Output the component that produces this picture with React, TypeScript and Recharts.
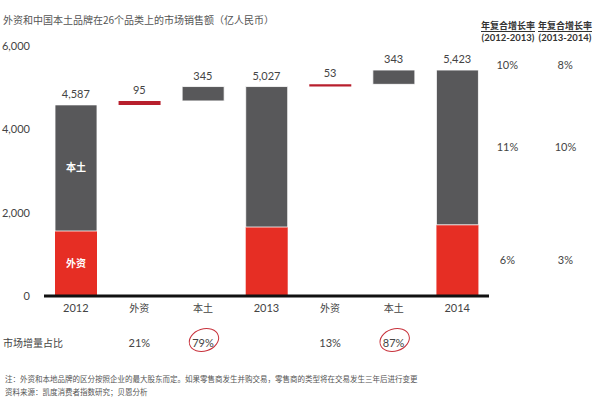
import React from 'react';
import { ComposedChart, Bar, Line, XAxis, YAxis, LabelList, Cell } from 'recharts';

const categories = ['2012', '外资', '本土', '2013', '外资', '本土', '2014'];
const offsetValues = [0, 4587, 4682, 0, 5027, 5080, 0];
const foreignValues = [1560, 95, 0, 1655, 53, 0, 1708];
const domesticValues = [3027, 0, 345, 3372, 0, 343, 3715];
const topValues = [4587, 4682, 5027, 5027, 5080, 5423, 5423];
const valueLabels = ['4,587', '95', '345', '5,027', '53', '343', '5,423'];
const shareLabels = ['', '21%', '79%', '', '13%', '87%', ''];
const circledShares = [false, false, true, false, false, true, false];
const yTicks = [0, 2000, 4000, 6000];
const cagrHeaders = [
  ['年复合增长率', '(2012-2013)'],
  ['年复合增长率', '(2013-2014)'],
];
const cagrTotal = ['10%', '8%'];
const cagrDomestic = ['11%', '10%'];
const cagrForeign = ['6%', '3%'];
const segmentLabels = { domestic: '本土', foreign: '外资' };
const floatingForeign = [false, true, false, false, true, false, false];

const title = '外资和中国本土品牌在26个品类上的市场销售额（亿人民币）';
const shareRowTitle = '市场增量占比';
const noteLines = [
  '注：外资和本地品牌的区分按照企业的最大股东而定。如果零售商发生并购交易，零售商的类型将在交易发生三年后进行变更',
  '资料来源：凯度消费者指数研究；贝恩分析',
];

const data = categories.map((name, i) => ({
  name,
  idx: i,
  offset: offsetValues[i],
  foreign: foreignValues[i],
  domestic: domesticValues[i],
  top: topValues[i],
  label: valueLabels[i],
}));

const NUM_FONT = "Lato, 'Noto Sans CJK SC', sans-serif";
const CJK_FONT = "'Noto Sans CJK SC', sans-serif";
const RED = '#e62e24';
const DARK_RED = '#b81f2d';
const GRAY = '#58585a';
const TEXT = '#444';

const CategoryTick = (props: any) => {
  const { x, y, payload } = props;
  const i = payload.index;
  const isYear = /^\d+$/.test(payload.value);
  return (
    <g>
      <text
        x={x}
        y={y + 12}
        dy="0.35em"
        textAnchor="middle"
        fontSize={isYear ? 11 : 10}
        fontFamily={isYear ? NUM_FONT : CJK_FONT}
        fill={TEXT}
      >
        {payload.value}
      </text>
      {shareLabels[i] ? (
        <text x={x} y={y + 47} dy="0.35em" textAnchor="middle" fontSize={11} fontFamily={NUM_FONT} fill={TEXT}>
          {shareLabels[i]}
        </text>
      ) : null}
      {circledShares[i] ? (
        <ellipse
          cx={x + 1}
          cy={y + 44}
          rx={15}
          ry={11}
          transform={`rotate(-18 ${x + 1} ${y + 44})`}
          fill="none"
          stroke="#c8323c"
          strokeWidth={1}
        />
      ) : null}
    </g>
  );
};

const getBox = (props: any) => {
  const vb = props.viewBox && props.viewBox.width !== undefined ? props.viewBox : props;
  return { x: Number(vb.x), y: Number(vb.y), width: Number(vb.width || 0), height: Number(vb.height || 0) };
};

const cagrContent = (values: string[], mode: 'center' | 'top') => (props: any) => {
  if (Number(props.value) !== 6) return null;
  const b = getBox(props);
  const cx = mode === 'center' ? b.x + b.width : b.x + 21;
  const cy = mode === 'center' ? b.y + b.height / 2 : b.y - 5;
  return (
    <g>
      {values.map((v, k) => (
        <text
          key={k}
          x={cx + 29 + k * 58}
          y={cy}
          dy="0.35em"
          textAnchor="middle"
          fontSize={11}
          fontFamily={NUM_FONT}
          fill={TEXT}
        >
          {v}
        </text>
      ))}
    </g>
  );
};

const segmentContent = (text: string) => (props: any) => {
  if (Number(props.value) !== 0) return null;
  const b = getBox(props);
  return (
    <text
      x={b.x + b.width / 2}
      y={b.y + b.height / 2}
      dy="0.35em"
      textAnchor="middle"
      fontSize={10}
      fontWeight="bold"
      fontFamily={CJK_FONT}
      fill="#fff"
    >
      {text}
    </text>
  );
};

export default function App() {
  return (
    <div style={{ position: 'absolute', left: 0, top: 0, width: 600, height: 400, background: '#fff' }}>
      <div
        style={{
          position: 'absolute',
          left: 3,
          top: 13,
          fontSize: 10,
          lineHeight: '14px',
          fontFamily: CJK_FONT,
          color: '#555',
          whiteSpace: 'nowrap',
        }}
      >
        {title}
      </div>
      {cagrHeaders.map((h, k) => (
        <div
          key={k}
          style={{
            position: 'absolute',
            left: 481 + k * 57,
            top: 20,
            width: 54,
            textAlign: 'center',
            fontFamily: CJK_FONT,
            color: '#333',
            fontWeight: 'bold',
          }}
        >
          <div style={{ fontSize: 9, lineHeight: '11px', borderBottom: '1px solid #333', whiteSpace: 'nowrap' }}>{h[0]}</div>
          <div style={{ fontSize: 9.5, lineHeight: '12px', fontFamily: NUM_FONT, whiteSpace: 'nowrap' }}>{h[1]}</div>
        </div>
      ))}
      <div
        style={{
          position: 'absolute',
          left: 3,
          top: 336,
          fontSize: 10,
          lineHeight: '14px',
          fontFamily: CJK_FONT,
          color: TEXT,
          whiteSpace: 'nowrap',
        }}
      >
        {shareRowTitle}
      </div>
      {noteLines.map((t, k) => (
        <div
          key={k}
          style={{
            position: 'absolute',
            left: 5,
            top: 374 + k * 13,
            fontSize: 7.5,
            lineHeight: '10px',
            fontFamily: CJK_FONT,
            color: '#555',
            whiteSpace: 'nowrap',
          }}
        >
          {t}
        </div>
      ))}
      <div style={{ position: 'absolute', left: 0, top: 0 }}>
        <ComposedChart
          width={600}
          height={400}
          data={data}
          margin={{ top: 46, right: 111, bottom: 74, left: 0 }}
        >
          <XAxis
            dataKey="name"
            height={30}
            axisLine={{ stroke: '#111', strokeWidth: 3 }}
            tickLine={false}
            tickSize={0}
            tickMargin={0}
            interval={0}
            tick={<CategoryTick />}
          />
          <YAxis
            width={44}
            domain={[0, 6000]}
            ticks={yTicks}
            axisLine={false}
            tickLine={false}
            tickSize={0}
            tickMargin={14}
            tickFormatter={(v: number) => v.toLocaleString('en-US')}
            tick={{ fontSize: 11, fontFamily: NUM_FONT, fill: TEXT }}
          />
          <Bar dataKey="offset" stackId="s" fill="transparent" barSize={42} isAnimationActive={false} />
          <Bar dataKey="foreign" stackId="s" fill={RED} barSize={42} isAnimationActive={false}>
            {data.map((d, i) => (
              <Cell key={i} fill={floatingForeign[i] ? DARK_RED : RED} />
            ))}
            <LabelList dataKey="idx" content={segmentContent(segmentLabels.foreign)} />
            <LabelList dataKey="idx" content={cagrContent(cagrForeign, 'center')} />
          </Bar>
          <Bar dataKey="domestic" stackId="s" fill={GRAY} barSize={42} stroke="#fff" strokeWidth={0.8} isAnimationActive={false}>
            <LabelList dataKey="idx" content={segmentContent(segmentLabels.domestic)} />
            <LabelList dataKey="idx" content={cagrContent(cagrDomestic, 'center')} />
          </Bar>
          <Line
            dataKey="top"
            stroke="none"
            dot={false}
            activeDot={false}
            isAnimationActive={false}
          >
            <LabelList
              dataKey="label"
              position="top"
              offset={7}
              style={{ fontSize: 11, fontFamily: NUM_FONT, fill: TEXT }}
            />
            <LabelList dataKey="idx" content={cagrContent(cagrTotal, 'top')} />
          </Line>
        </ComposedChart>
      </div>
    </div>
  );
}
